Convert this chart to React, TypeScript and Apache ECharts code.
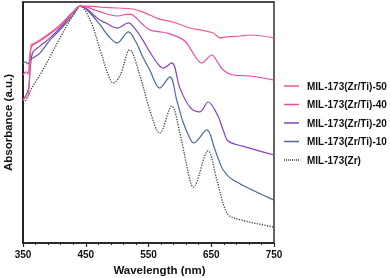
import React, { useEffect, useRef } from "react";
import * as echarts from "echarts";

const xTicks = [350, 450, 550, 650, 750];

const names = [
  "MIL-173(Zr/Ti)-50",
  "MIL-173(Zr/Ti)-40",
  "MIL-173(Zr/Ti)-20",
  "MIL-173(Zr/Ti)-10",
  "MIL-173(Zr)",
];

const wl50 = [350, 353, 358, 361, 363, 366, 377, 393, 409, 420, 431, 441, 452, 473, 500, 525, 540, 552, 568, 589, 616, 632, 647, 653, 659, 664, 675, 696, 712, 750];
const abs50 = [0.593, 0.602, 0.61, 0.718, 0.822, 0.826, 0.842, 0.871, 0.905, 0.934, 0.963, 0.983, 0.983, 0.979, 0.975, 0.971, 0.959, 0.946, 0.929, 0.917, 0.892, 0.884, 0.876, 0.871, 0.859, 0.851, 0.855, 0.859, 0.863, 0.851];

const wl40 = [350, 355, 358, 361, 364, 377, 393, 409, 420, 431, 441, 452, 473, 500, 518, 525, 540, 552, 568, 580, 600, 611, 616, 635, 651, 660, 669, 685, 712, 750];
const abs40 = [0.697, 0.71, 0.701, 0.78, 0.817, 0.838, 0.867, 0.9, 0.929, 0.959, 0.983, 0.979, 0.959, 0.942, 0.95, 0.946, 0.909, 0.884, 0.876, 0.871, 0.851, 0.83, 0.809, 0.747, 0.78, 0.751, 0.718, 0.697, 0.693, 0.676];

const wl20 = [350, 355, 359, 362, 366, 377, 393, 409, 420, 431, 441, 452, 468, 485, 500, 518, 530, 541, 552, 565, 573, 587, 600, 616, 632, 645, 660, 669, 677, 700, 750];
const abs20 = [0.593, 0.614, 0.643, 0.739, 0.793, 0.817, 0.851, 0.892, 0.925, 0.959, 0.983, 0.971, 0.934, 0.909, 0.892, 0.913, 0.884, 0.842, 0.793, 0.743, 0.726, 0.747, 0.643, 0.564, 0.544, 0.585, 0.531, 0.469, 0.423, 0.402, 0.365];

const wl10 = [350, 354, 358, 362, 366, 377, 393, 409, 420, 431, 441, 452, 473, 486, 500, 518, 530, 541, 552, 568, 584, 595, 605, 615, 622, 643, 655, 662, 669, 685, 750];
const abs10 = [0.747, 0.751, 0.743, 0.759, 0.768, 0.788, 0.842, 0.884, 0.917, 0.95, 0.983, 0.967, 0.905, 0.859, 0.83, 0.876, 0.834, 0.772, 0.718, 0.643, 0.689, 0.593, 0.502, 0.44, 0.415, 0.469, 0.394, 0.344, 0.303, 0.261, 0.178];

const wlZr = [350, 353, 358, 364, 377, 393, 409, 425, 438, 441, 457, 473, 486, 494, 505, 520, 537, 552, 568, 587, 600, 616, 621, 645, 659, 675, 691, 750];
const absZr = [0.593, 0.589, 0.61, 0.643, 0.697, 0.772, 0.851, 0.925, 0.975, 0.983, 0.925, 0.801, 0.697, 0.664, 0.697, 0.801, 0.689, 0.552, 0.456, 0.568, 0.456, 0.261, 0.232, 0.382, 0.261, 0.124, 0.1, 0.066];

const colors = ["#ef5a86", "#ec4aa5", "#8244c0", "#4e6a92", "#444444"];

const wls = [wl50, wl40, wl20, wl10, wlZr];
const absVals = [abs50, abs40, abs20, abs10, absZr];

const FONT = "Liberation Sans, Arial, sans-serif";

const SOLID_ICON = "path://M0,0h30v3h-30z";
const DOTTED_ICON =
  "path://M0,0h2v3h-2z M4,0h2v3h-2z M8,0h2v3h-2z M12,0h2v3h-2z M16,0h2v3h-2z M20,0h2v3h-2z M24,0h2v3h-2z M28,0h2v3h-2z";

export default function App() {
  const ref = useRef<HTMLDivElement>(null);
  useEffect(() => {
    if (!ref.current) return;
    const chart = echarts.init(ref.current, null, { renderer: "svg" });
    const series = names.map((n, i) => ({
      name: n,
      type: "line",
      smooth: 0.35,
      symbol: "none",
      data: wls[i].map((x, j) => [x, absVals[i][j]]),
      lineStyle: {
        color: colors[i],
        width: i === 4 ? 1.3 : 1.2,
        type: i === 4 ? "dotted" : "solid",
      },
      itemStyle: { color: colors[i] },
      z: 10 - i,
    }));
    chart.setOption({
      animation: false,
      grid: {
        left: 23,
        right: 116,
        top: 2,
        bottom: 35,
        show: true,
        borderColor: "#111",
        borderWidth: 1.3,
        backgroundColor: "transparent",
        containLabel: false,
        outerBoundsMode: "none",
      },
      legend: {
        orient: "vertical",
        left: 284,
        top: 80,
        padding: 0,
        itemWidth: 15,
        itemHeight: 1.5,
        itemGap: 6.5,
        data: names.map((n, i) => ({
          name: n,
          icon: i === 4 ? DOTTED_ICON : SOLID_ICON,
        })),
        textStyle: {
          fontFamily: FONT,
          fontWeight: "bold",
          fontSize: 10,
          lineHeight: 12,
          color: "#111",
          padding: [0, 0, 0, 3],
        },
      },
      xAxis: {
        type: "value",
        min: 350,
        max: 750,
        interval: 100,
        name: "Wavelength (nm)",
        nameLocation: "middle",
        nameGap: 20,
        nameTextStyle: {
          fontFamily: FONT,
          fontWeight: "bold",
          fontSize: 11.5,
          color: "#111",
          padding: [0, 0, 0, 22],
        },
        axisLine: { show: true, lineStyle: { color: "#222", width: 1.5 } },
        axisTick: { show: true, length: 4, lineStyle: { color: "#222", width: 1.2 } },
        minorTick: { show: true, splitNumber: 5, length: 2, lineStyle: { color: "#222", width: 1 } },
        splitLine: { show: false },
        axisLabel: {
          margin: 6,
          fontFamily: FONT,
          fontWeight: "bold",
          fontSize: 10,
          color: "#111",
          customValues: xTicks,
        },
      },
      yAxis: {
        type: "value",
        min: 0,
        max: 1,
        name: "Absorbance (a.u.)",
        nameLocation: "middle",
        nameGap: 9,
        nameTextStyle: {
          fontFamily: FONT,
          fontWeight: "bold",
          fontSize: 11.5,
          color: "#111",
        },
        axisLine: { show: true, lineStyle: { color: "#111", width: 1.5 } },
        axisTick: { show: false },
        axisLabel: { show: false },
        splitLine: { show: false },
      },
      series,
    });
    return () => chart.dispose();
  }, []);
  return (
    <div
      ref={ref}
      style={{ position: "fixed", left: 0, top: 0, width: 390, height: 278 }}
    />
  );
}
